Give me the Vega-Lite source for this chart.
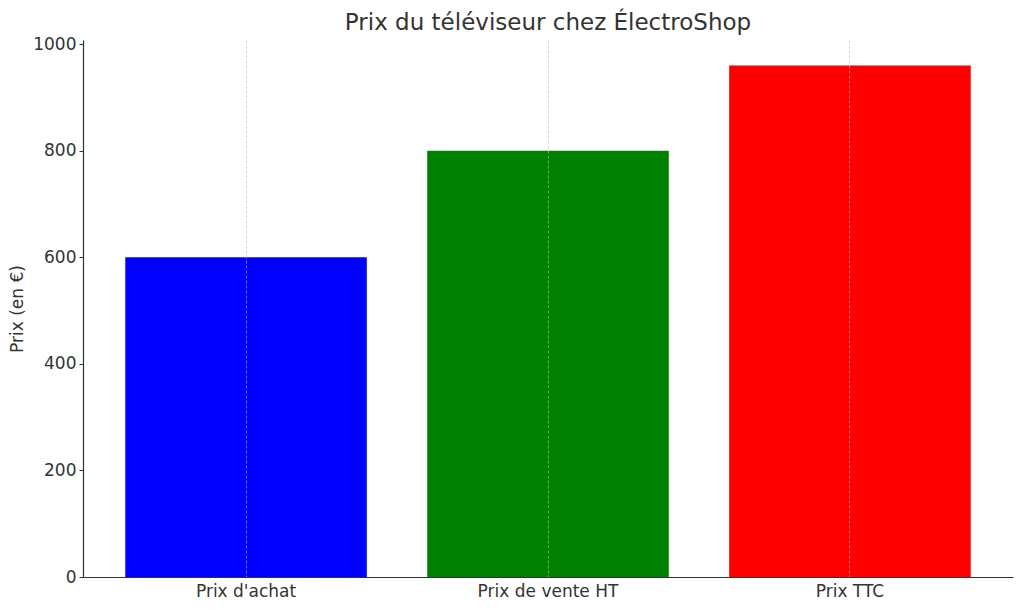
{
  "$schema": "https://vega.github.io/schema/vega-lite/v6.json",
  "width": 930,
  "height": 537,
  "autosize": {"type": "none"},
  "padding": {"left": 83, "top": 40, "right": 11, "bottom": 33},
  "background": "white",
  "title": {
    "text": "Prix du téléviseur chez ÉlectroShop",
    "font": "DejaVu Sans",
    "fontSize": 23,
    "fontWeight": "normal",
    "color": "#333333",
    "anchor": "middle",
    "offset": 0
  },
  "config": {
    "view": {"stroke": null},
    "font": "DejaVu Sans"
  },
  "data": {
    "values": [
      {"Categorie": "Prix d'achat", "Prix": 600},
      {"Categorie": "Prix de vente HT", "Prix": 800},
      {"Categorie": "Prix TTC", "Prix": 960}
    ]
  },
  "mark": {"type": "bar"},
  "encoding": {
    "x": {
      "field": "Categorie",
      "type": "nominal",
      "sort": null,
      "title": null,
      "scale": {"paddingInner": 0.2, "paddingOuter": 0.14},
      "axis": {
        "labelAngle": 0,
        "labelFont": "DejaVu Sans",
        "labelFontSize": 17,
        "labelColor": "#333333",
        "labelPadding": 6,
        "ticks": false,
        "domainColor": "#333333",
        "domainWidth": 1.2,
        "grid": true,
        "gridColor": "#bbbbbb",
        "gridDash": [3, 2],
        "gridWidth": 0.6,
        "bandPosition": 0.5,
        "zindex": 1
      }
    },
    "y": {
      "field": "Prix",
      "type": "quantitative",
      "title": "Prix (en €)",
      "scale": {"domain": [0, 1008], "nice": false},
      "axis": {
        "values": [0, 200, 400, 600, 800, 1000],
        "format": "d",
        "grid": false,
        "labelFont": "DejaVu Sans",
        "labelFontSize": 17,
        "labelColor": "#333333",
        "labelPadding": 3,
        "tickSize": 4,
        "tickColor": "#333333",
        "domainColor": "#333333",
        "domainWidth": 1.2,
        "titleFont": "DejaVu Sans",
        "titleFontSize": 17,
        "titleFontWeight": "normal",
        "titleColor": "#333333",
        "titlePadding": 6
      }
    },
    "color": {
      "field": "Categorie",
      "type": "nominal",
      "scale": {
        "domain": ["Prix d'achat", "Prix de vente HT", "Prix TTC"],
        "range": ["#0000ff", "#008000", "#ff0000"]
      },
      "legend": null
    }
  }
}
